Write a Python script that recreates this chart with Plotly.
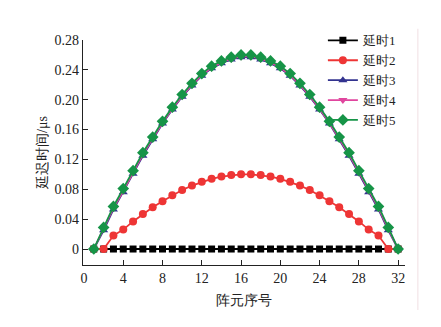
import plotly.graph_objects as go

# element index 1..32
elements = list(range(1, 33))

half1 = [0.0] * 16
half2 = [0.0, 0.0, 0.018, 0.026, 0.037, 0.047, 0.056, 0.064, 0.072, 0.079,
         0.085, 0.090, 0.094, 0.097, 0.099, 0.100]
half3 = [0.0, 0.025, 0.053, 0.076, 0.101, 0.125, 0.147, 0.168, 0.187, 0.204,
         0.219, 0.232, 0.242, 0.249, 0.254, 0.257]
half4 = [0.0, 0.027, 0.055, 0.078, 0.103, 0.127, 0.148, 0.169, 0.188, 0.205,
         0.220, 0.233, 0.243, 0.250, 0.255, 0.258]
half5 = [0.0, 0.029, 0.057, 0.081, 0.105, 0.129, 0.150, 0.171, 0.190, 0.207,
         0.222, 0.235, 0.245, 0.252, 0.257, 0.260]

# symmetric aperture: second half mirrors the first
delay1 = half1 + half1[::-1]
delay2 = half2 + half2[::-1]
delay3 = half3 + half3[::-1]
delay4 = half4 + half4[::-1]
delay5 = half5 + half5[::-1]

names = ["延时1", "延时2", "延时3", "延时4", "延时5"]
series = [delay1, delay2, delay3, delay4, delay5]
colors = ["#000000", "#ee3535", "#33338f", "#e0459e", "#169447"]
symbols = ["square", "circle", "triangle-up", "triangle-down", "diamond"]
sizes = [7, 8, 8, 8, 9]

xticks = [0, 4, 8, 12, 16, 20, 24, 28, 32]
yticks = [0, 0.04, 0.08, 0.12, 0.16, 0.20, 0.24, 0.28]
ytext = ["0", "0.04", "0.08", "0.12", "0.16", "0.20", "0.24", "0.28"]

FONT = "Liberation Serif"

fig = go.Figure()
for n, y, c, s, sz in zip(names, series, colors, symbols, sizes):
    fig.add_trace(go.Scatter(
        x=elements, y=y, name=n, mode="lines+markers",
        line=dict(color=c, width=1.8),
        marker=dict(symbol=s, size=sz, color=c, line=dict(width=0)),
    ))

fig.update_layout(
    width=441, height=327,
    margin=dict(l=83, r=36, t=40, b=62),
    paper_bgcolor="white", plot_bgcolor="white",
    font=dict(family=FONT, size=14, color="#222"),
    showlegend=True,
    legend=dict(
        x=0.745, y=1.065, xanchor="left", yanchor="top",
        bgcolor="rgba(0,0,0,0)", font=dict(size=13),
        itemwidth=30, tracegroupgap=0,
    ),
    xaxis=dict(
        range=[-0.1, 32.7], tickmode="array", tickvals=xticks,
        showline=True, linecolor="#222", linewidth=1.2,
        ticks="inside", ticklen=5, tickcolor="#222",
        showgrid=False, zeroline=False, mirror=False,
        title=dict(text="阵元序号", standoff=10, font=dict(size=14)),
    ),
    yaxis=dict(
        range=[-0.0214, 0.28], tickmode="array", tickvals=yticks, ticktext=ytext,
        showline=True, linecolor="#222", linewidth=1.2,
        ticks="inside", ticklen=5, tickcolor="#222",
        showgrid=False, zeroline=False, mirror=False,
        title=dict(text="延迟时间/μs", standoff=3, font=dict(size=14)),
    ),
    shapes=[dict(type="line", xref="paper", yref="paper",
                 x0=1.04, x1=1.04, y0=-0.2, y1=1.05,
                 line=dict(color="#f0dfe3", width=1))],
)

fig.write_html("out.html")
